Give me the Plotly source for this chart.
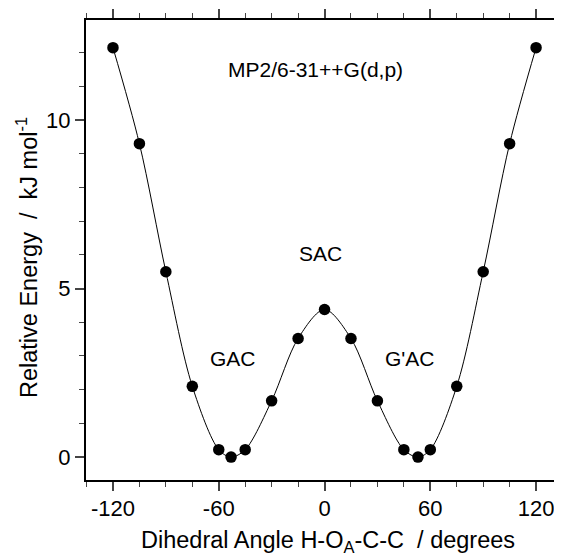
import plotly.graph_objects as go

angles = [-120, -105, -90, -75, -60, -53, -45, -30, -15, 0, 15, 30, 45, 53, 60, 75, 90, 105, 120]
energy = [12.15, 9.3, 5.5, 2.1, 0.22, 0.0, 0.22, 1.67, 3.52, 4.38, 3.52, 1.67, 0.22, 0.0, 0.22, 2.1, 5.5, 9.3, 12.15]
x_ticks = [-120, -60, 0, 60, 120]
x_tick_labels = ["-120", "-60", "0", "60", "120"]
y_ticks = [0, 5, 10]
y_tick_labels = ["0", "5", "10"]

font = "Liberation Sans, Arial, Helvetica, sans-serif"
NB = "\u00a0"

# page body has an 8px default margin; figure is sized/placed to compensate
W, H = 554, 548
L, R, T, B = 78, 0, 12, 76
PW, PH = W - L - R, H - T - B

fig = go.Figure()
fig.add_trace(go.Scatter(x=angles, y=energy, mode="lines",
                         line=dict(color="black", width=1, shape="spline", smoothing=0.9),
                         hoverinfo="skip", showlegend=False))
fig.add_trace(go.Scatter(x=angles, y=energy, mode="markers",
                         marker=dict(color="black", size=11.5), showlegend=False))

fig.update_layout(
    width=W, height=H,
    margin=dict(l=L, r=R, t=T, b=B),
    paper_bgcolor="white", plot_bgcolor="white",
    font=dict(family=font, size=21, color="black"),
    xaxis=dict(range=[-135.3, 134.7], tickvals=x_ticks, ticktext=x_tick_labels,
               ticks="outside", ticklen=9, tickwidth=1.5, automargin=False,
               ticklabelstandoff=-1,
               showline=True, linewidth=2, linecolor="black", mirror="ticks",
               showgrid=False, zeroline=False, tickfont=dict(size=22),
               minor=dict(dtick=15, tick0=0, ticks="outside", ticklen=5, tickwidth=1.2, showgrid=False)),
    yaxis=dict(range=[-0.68, 12.97], tickvals=y_ticks, ticktext=y_tick_labels,
               ticks="outside", ticklen=9, tickwidth=1.5, automargin=False,
               showline=True, linewidth=2, linecolor="black", mirror=False,
               showgrid=False, zeroline=False, tickfont=dict(size=22),
               minor=dict(dtick=1, tick0=0, ticks="outside", ticklen=5, tickwidth=1.2, showgrid=False)),
    annotations=[
        dict(x=-5.4, y=11.5, text="MP2/6-31++G(d,p)", showarrow=False, font=dict(size=21)),
        dict(x=-2.5, y=6.05, text="SAC", showarrow=False, font=dict(size=21)),
        dict(x=-52, y=2.94, text="GAC", showarrow=False, font=dict(size=21)),
        dict(x=48.5, y=2.94, text="G'AC", showarrow=False, font=dict(size=21)),
        dict(xref="paper", yref="paper", x=(328 - 8 - L) / PW, y=(472 - 533) / PH,
             text="Dihedral Angle H-O<sub>A</sub>-C-C" + NB + NB + "/ degrees", showarrow=False,
             font=dict(size=23.5), xanchor="center", yanchor="middle"),
        dict(xref="paper", yref="paper", x=(27 - 8 - L) / PW, y=(472 - 250) / PH,
             text="Relative Energy" + NB + NB + "/" + NB + NB + "kJ mol<sup>-1</sup>", showarrow=False,
             textangle=-90, font=dict(size=23.5), xanchor="center", yanchor="middle"),
    ],
)

fig.write_html("out.html")
